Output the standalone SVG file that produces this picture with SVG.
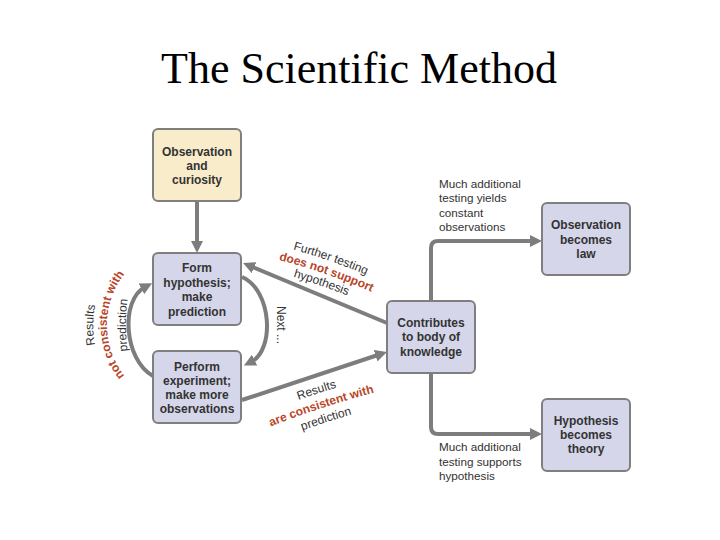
<svg xmlns="http://www.w3.org/2000/svg" width="720" height="540" viewBox="0 0 720 540">
<style>
.box{fill:#d5d6e9;stroke:#7f7f7f;stroke-width:2}
.yel{fill:#f8ecca;stroke:#7f7f7f;stroke-width:2}
.bt{font-family:"Liberation Sans",Arial,sans-serif;font-size:12px;font-weight:bold;fill:#333;text-anchor:middle}
.lb{font-family:"Liberation Sans",Arial,sans-serif;font-size:11.7px;fill:#333}
.al{font-family:"Liberation Sans",Arial,sans-serif;font-size:12px;fill:#333}
.red{font-family:"Liberation Sans",Arial,sans-serif;font-size:12px;font-weight:bold;fill:#b8462a}
.con{fill:none;stroke:#7d7d7d;stroke-width:4}
</style>
<defs>
<marker id="ah" viewBox="0 0 12 12" refX="4" refY="6" markerWidth="12" markerHeight="12" markerUnits="userSpaceOnUse" orient="auto">
<path d="M0,0 L12,6 L0,12 z" fill="#7d7d7d"/>
</marker>
<path id="pL1" d="M104.6,372.5 A105,105 0 0 1 104.6,277.5"/>
<path id="pL2" d="M136.6,388.6 A83,83 0 0 1 136.6,261.4"/>
<path id="pL3" d="M135.0,385.0 A204,204 0 0 1 135.0,265.0"/>
<path id="pT1" d="M272.3,244.3 Q331.0,258.2 385.8,283.4"/>
<path id="pT2" d="M268.0,257.3 Q326.7,271.2 381.5,296.4"/>
<path id="pT3" d="M262.8,268.8 Q321.5,282.7 376.3,307.9"/>
<path id="pB1" d="M261.1,414.0 Q316.9,391.6 375.2,376.8"/>
<path id="pB2" d="M265.6,428.5 Q321.4,406.1 379.7,391.3"/>
<path id="pB3" d="M270.6,442.5 Q326.4,420.1 384.7,405.3"/>
</defs>
<text x="359" y="83" font-family="'Liberation Serif','Times New Roman',serif" font-size="44" text-anchor="middle" fill="#000">The Scientific Method</text>
<g id="connectors">
<path class="con" d="M197,202 V245" marker-end="url(#ah)"/>
<path class="con" d="M387,323 L250.4,266.1" marker-end="url(#ah)"/>
<path class="con" d="M242,400 L379.4,354.5" marker-end="url(#ah)"/>
<path class="con" d="M242,277 C272,290 275,350 251,362" marker-end="url(#ah)"/>
<path class="con" d="M153,376 C124,360 120,300 145,287" marker-end="url(#ah)"/>
<path class="con" d="M431,300 V248 Q431,241 438,241 H534" marker-end="url(#ah)"/>
<path class="con" d="M431,373 V427 Q431,434 438,434 H534" marker-end="url(#ah)"/>
</g>
<g id="obs">
<rect class="yel" x="153" y="129" width="88" height="72" rx="5"/>
<text class="bt" x="197" y="156">Observation</text>
<text class="bt" x="197" y="170">and</text>
<text class="bt" x="197" y="184">curiosity</text>
</g>
<g id="form">
<rect class="box" x="153" y="253" width="88" height="72" rx="5"/>
<text class="bt" x="197" y="272">Form</text>
<text class="bt" x="197" y="286.5">hypothesis;</text>
<text class="bt" x="197" y="301">make</text>
<text class="bt" x="197" y="315.5">prediction</text>
</g>
<g id="perform">
<rect class="box" x="153" y="351" width="88" height="72" rx="5"/>
<text class="bt" x="197" y="371">Perform</text>
<text class="bt" x="197" y="385">experiment;</text>
<text class="bt" x="197" y="399">make more</text>
<text class="bt" x="197" y="413">observations</text>
</g>
<g id="contrib">
<rect class="box" x="387" y="301" width="88" height="72" rx="5"/>
<text class="bt" x="431" y="327">Contributes</text>
<text class="bt" x="431" y="341">to body of</text>
<text class="bt" x="431" y="355.5">knowledge</text>
</g>
<g id="law">
<rect class="box" x="542" y="203" width="88" height="72" rx="5"/>
<text class="bt" x="586" y="229">Observation</text>
<text class="bt" x="586" y="243.5">becomes</text>
<text class="bt" x="586" y="257.5">law</text>
</g>
<g id="theory">
<rect class="box" x="542" y="399" width="88" height="72" rx="5"/>
<text class="bt" x="586" y="425">Hypothesis</text>
<text class="bt" x="586" y="439">becomes</text>
<text class="bt" x="586" y="453">theory</text>
</g>
<g id="labels">
<text class="lb" x="439" y="188">Much additional</text>
<text class="lb" x="439" y="202">testing yields</text>
<text class="lb" x="439" y="216.5">constant</text>
<text class="lb" x="439" y="231">observations</text>
<text class="lb" x="439" y="451">Much additional</text>
<text class="lb" x="439" y="466">testing supports</text>
<text class="lb" x="439" y="480">hypothesis</text>
<text class="al" transform="translate(277,325) rotate(90)" text-anchor="middle">Next ...</text>
<text class="al" text-anchor="middle"><textPath href="#pL1" startOffset="50%">Results</textPath></text>
<text class="red" font-size="13" text-anchor="middle"><textPath href="#pL2" startOffset="50%">not consistent with</textPath></text>
<text class="al" text-anchor="middle"><textPath href="#pL3" startOffset="50%">prediction</textPath></text>
<text class="al" text-anchor="middle"><textPath href="#pT1" startOffset="50%">Further testing</textPath></text>
<text class="red" text-anchor="middle"><textPath href="#pT2" startOffset="50%">does not support</textPath></text>
<text class="al" text-anchor="middle"><textPath href="#pT3" startOffset="50%">hypothesis</textPath></text>
<text class="al" text-anchor="middle"><textPath href="#pB1" startOffset="50%">Results</textPath></text>
<text class="red" text-anchor="middle"><textPath href="#pB2" startOffset="50%">are consistent with</textPath></text>
<text class="al" text-anchor="middle"><textPath href="#pB3" startOffset="50%">prediction</textPath></text>
</g>
</svg>
